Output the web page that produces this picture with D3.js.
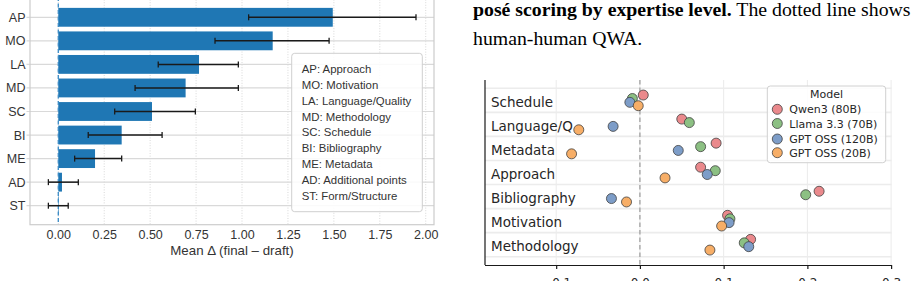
<!DOCTYPE html>
<html><head><meta charset="utf-8">
<script src="https://cdn.jsdelivr.net/npm/d3@7"></script>
<style>body{margin:0;background:#fff}svg{display:block}</style>
</head><body><svg id="c" width="917" height="281"></svg>
<script>
// ---------- Left chart data ----------
const abbrevs = ["AP","MO","LA","MD","SC","BI","ME","AD","ST"];
const meanDelta = [1.494,1.167,0.766,0.693,0.51,0.345,0.20,0.02,0.003];
const errLow  = [1.036,0.853,0.544,0.418,0.307,0.163,0.089,-0.054,-0.054];
const errHigh = [1.947,1.474,0.98,0.98,0.746,0.565,0.345,0.109,0.054];
const legendLabels = ["AP: Approach","MO: Motivation","LA: Language/Quality","MD: Methodology","SC: Schedule","BI: Bibliography","ME: Metadata","AD: Additional points","ST: Form/Structure"];
const xTicksLeft = [0,0.25,0.5,0.75,1.0,1.25,1.5,1.75,2.0];
const xLabelLeft = "Mean \u0394 (final \u2013 draft)";

// ---------- Right chart data ----------
const aspects = ["Schedule","Language/Q","Metadata","Approach","Bibliography","Motivation","Methodology"];
const models = ["Qwen3 (80B)","Llama 3.3 (70B)","GPT OSS (120B)","GPT OSS (20B)"];
const modelColors = ["#ea898c","#8cc083","#7d9dc8","#f7ae67"];
const qwen   = [0.004,0.050,0.091,0.0725,0.214,0.1047,0.1322];
const llama  = [-0.009,0.059,0.0725,0.090,0.198,0.1075,0.1246];
const gpt120 = [-0.012,-0.032,0.0458,0.0804,-0.034,0.1065,0.130];
const gpt20  = [-0.002,-0.073,-0.0816,0.030,-0.016,0.0976,0.0836];
const xTicksRight = [-0.1,0.0,0.1,0.2,0.3];
const captionBold = "posé scoring by expertise level.";
const captionRest = " The dotted line shows";
const captionLine2 = "human-human QWA.";

const svg = d3.select("#c");

// ================= LEFT =================
const L = {left:30,right:434,top:-3,bottom:224.7};
const xL = d3.scaleLinear().domain([-0.154,2.045]).range([L.left,L.right]);
const yL = d3.scalePoint().domain(abbrevs).range([17.3,205.7]);
const bh = yL.step()*0.8;
const gL = svg.append("g");

gL.selectAll(".vg").data(xTicksLeft).join("line")
  .attr("x1",d=>xL(d)).attr("x2",d=>xL(d)).attr("y1",L.top).attr("y2",L.bottom)
  .attr("stroke","#d4d4d4").attr("stroke-width",0.9).attr("stroke-dasharray","1,1.6");
gL.selectAll(".hg").data(abbrevs).join("line")
  .attr("x1",L.left-3.5).attr("x2",L.right).attr("y1",d=>yL(d)).attr("y2",d=>yL(d))
  .attr("stroke","#d9d9d9").attr("stroke-width",1.2);

gL.selectAll(".bar").data(abbrevs).join("rect")
  .attr("x",(d,i)=>Math.min(xL(0),xL(meanDelta[i])))
  .attr("width",(d,i)=>Math.abs(xL(meanDelta[i])-xL(0)))
  .attr("y",d=>yL(d)-bh/2).attr("height",bh).attr("fill","#1f77b4");

gL.append("line").attr("x1",xL(0)).attr("x2",xL(0)).attr("y1",L.top).attr("y2",L.bottom)
  .attr("stroke","#3b8bc6").attr("stroke-width",1.3).attr("stroke-dasharray","4,2.5");

const eb = gL.selectAll(".eb").data(abbrevs).join("g");
eb.append("line").attr("x1",(d,i)=>xL(errLow[i])).attr("x2",(d,i)=>xL(errHigh[i]))
  .attr("y1",d=>yL(d)).attr("y2",d=>yL(d)).attr("stroke","#1a1a1a").attr("stroke-width",1.5);
eb.append("line").attr("x1",(d,i)=>xL(errLow[i])).attr("x2",(d,i)=>xL(errLow[i]))
  .attr("y1",d=>yL(d)-3).attr("y2",d=>yL(d)+3).attr("stroke","#1a1a1a").attr("stroke-width",1.3);
eb.append("line").attr("x1",(d,i)=>xL(errHigh[i])).attr("x2",(d,i)=>xL(errHigh[i]))
  .attr("y1",d=>yL(d)-3).attr("y2",d=>yL(d)+3).attr("stroke","#1a1a1a").attr("stroke-width",1.3);

gL.append("rect").attr("x",L.left).attr("y",L.top).attr("width",L.right-L.left).attr("height",L.bottom-L.top)
  .attr("fill","none").attr("stroke","#cccccc").attr("stroke-width",1.2);

const axL = gL.append("g").attr("transform",`translate(0,${L.bottom})`)
  .call(d3.axisBottom(xL).tickValues(xTicksLeft).tickFormat(d3.format(".2f")).tickSize(0).tickPadding(5));
axL.select(".domain").remove();
axL.selectAll("text").attr("font-family","Liberation Sans, Arial, sans-serif").attr("font-size",12.5).attr("fill","#333");

const ayL = gL.append("g").attr("transform",`translate(${L.left},0)`)
  .call(d3.axisLeft(yL).tickSize(0).tickPadding(4.5));
ayL.select(".domain").remove();
ayL.selectAll("text").attr("font-family","Liberation Sans, Arial, sans-serif").attr("font-size",12.5).attr("fill","#333");

gL.append("text").attr("x",(L.left+L.right)/2).attr("y",255).attr("text-anchor","middle")
  .attr("font-family","Liberation Sans, Arial, sans-serif").attr("font-size",13.3).attr("fill","#333").text(xLabelLeft);

// left legend
const lg = gL.append("g");
lg.append("rect").attr("x",291.7).attr("y",53.3).attr("width",130.6).attr("height",158.4).attr("rx",3)
  .attr("fill","#fff").attr("fill-opacity",0.85).attr("stroke","#cfcfcf").attr("stroke-width",1);
lg.selectAll("text").data(legendLabels).join("text")
  .attr("x",301.7).attr("y",(d,i)=>69+15.84*i+4.1)
  .attr("font-family","Liberation Sans, Arial, sans-serif").attr("font-size",11.4).attr("fill","#333").text(d=>d);

// ================= RIGHT: caption =================
const cap = svg.append("text").attr("x",473).attr("y",15.5)
  .attr("font-family","Liberation Serif, Times New Roman, serif").attr("font-size",19.8).attr("fill","#000");
cap.append("tspan").attr("font-weight","bold").text(captionBold);
cap.append("tspan").text(captionRest);
svg.append("text").attr("x",473).attr("y",44.5)
  .attr("font-family","Liberation Serif, Times New Roman, serif").attr("font-size",19.8).attr("fill","#000").text(captionLine2);

// ================= RIGHT: chart =================
const R = {left:485,right:891.7,top:80,bottom:265};
const xR = d3.scaleLinear().domain([-0.185,0.3007]).range([R.left,R.right]);
const yR = d3.scaleBand().domain(aspects).range([88.3,256.7]).padding(0);
const gR = svg.append("g");

gR.selectAll(".vg").data(xTicksRight).join("line")
  .attr("x1",d=>xR(d)).attr("x2",d=>xR(d)).attr("y1",R.top).attr("y2",R.bottom)
  .attr("stroke","#ebebeb").attr("stroke-width",1);
const bounds = aspects.map(a=>yR(a)).concat([yR(aspects[aspects.length-1])+yR.bandwidth()]);
gR.selectAll(".hg").data(bounds).join("line")
  .attr("x1",R.left).attr("x2",R.right).attr("y1",d=>d).attr("y2",d=>d)
  .attr("stroke","#ececec").attr("stroke-width",1.6);

gR.append("line").attr("x1",xR(0)).attr("x2",xR(0)).attr("y1",R.top).attr("y2",R.bottom)
  .attr("stroke","#a0a0a0").attr("stroke-width",1.3).attr("stroke-dasharray","4.5,3");

gR.selectAll(".lab").data(aspects).join("text")
  .attr("x",491).attr("y",d=>yR(d)+yR.bandwidth()/2+6.4)
  .attr("font-family","DejaVu Sans, sans-serif").attr("font-size",13.5).attr("fill","#262626").text(d=>d);

const series = [qwen,llama,gpt120,gpt20];
const offs = [-5.3,-1.8,2.0,5.4];
series.forEach((vals,m)=>{
  gR.selectAll(".pt"+m).data(aspects).join("circle")
    .attr("cx",(d,i)=>xR(vals[i])).attr("cy",d=>yR(d)+yR.bandwidth()/2+offs[m]).attr("r",5)
    .attr("fill",modelColors[m]).attr("stroke","#404040").attr("stroke-width",0.8);
});

gR.append("line").attr("x1",R.left).attr("x2",R.left).attr("y1",R.top).attr("y2",R.bottom).attr("stroke","#1a1a1a").attr("stroke-width",1.2);
const axR = gR.append("g").attr("transform",`translate(0,${R.bottom})`)
  .call(d3.axisBottom(xR).tickValues(xTicksRight).tickFormat(d3.format(".1f")).tickSize(4).tickSizeOuter(0).tickPadding(9));
axR.select(".domain").attr("stroke","#1a1a1a").attr("stroke-width",1.2).attr("d",`M${R.left},0.5H${R.right}`);
axR.selectAll(".tick line").attr("stroke","#1a1a1a").attr("stroke-width",1.2);
axR.selectAll("text").attr("font-family","DejaVu Sans, sans-serif").attr("font-size",12).attr("fill","#262626");

// right legend
const rg = gR.append("g");
rg.append("rect").attr("x",767.3).attr("y",86).attr("width",118.4).attr("height",76.7).attr("rx",3)
  .attr("fill","#fff").attr("fill-opacity",0.85).attr("stroke","#d0d0d0").attr("stroke-width",1);
rg.append("text").attr("x",826.5).attr("y",98.3).attr("text-anchor","middle")
  .attr("font-family","DejaVu Sans, sans-serif").attr("font-size",11).attr("fill","#262626").text("Model");
const legY = [109.3,123.5,139,152.7];
models.forEach((m,i)=>{
  rg.append("circle").attr("cx",777.3).attr("cy",legY[i]).attr("r",5)
    .attr("fill",modelColors[i]).attr("stroke","#404040").attr("stroke-width",0.8);
  rg.append("text").attr("x",789.3).attr("y",legY[i]+4)
    .attr("font-family","DejaVu Sans, sans-serif").attr("font-size",11).attr("fill","#262626").text(m);
});
</script></body></html>
